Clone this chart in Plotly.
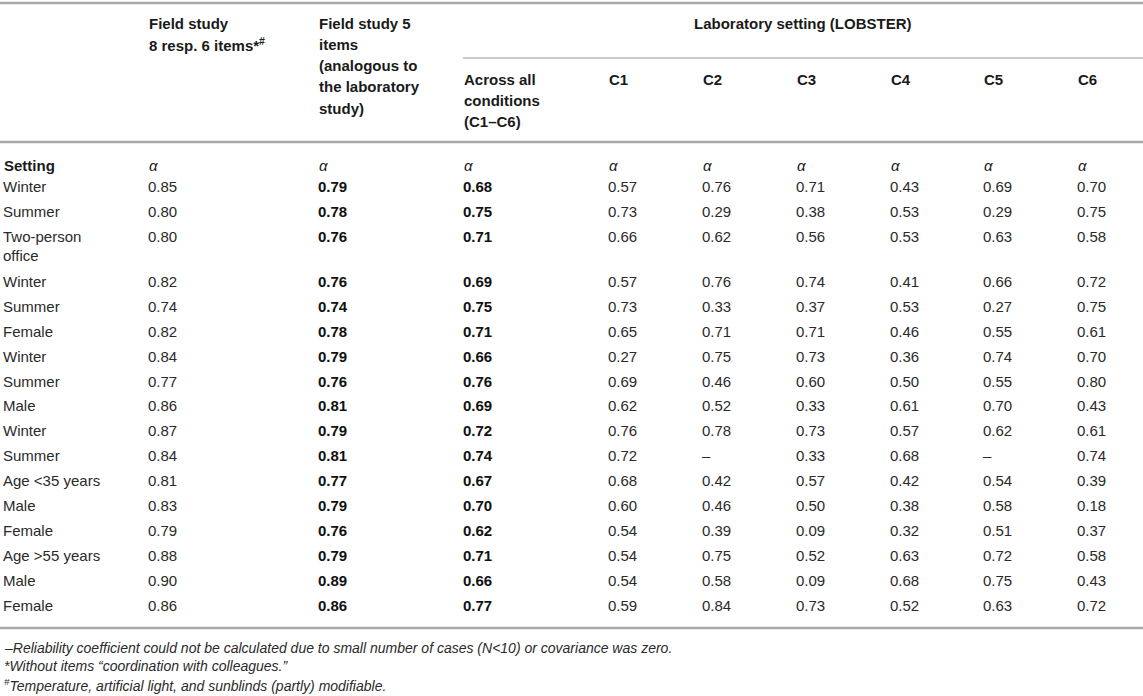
import plotly.graph_objects as go

# row labels (first column)
settings = ["Winter", "Summer", "Two-person<br>office", "Winter", "Summer", "Female",
            "Winter", "Summer", "Male", "Winter", "Summer", "Age <35 years",
            "Male", "Female", "Age >55 years", "Male", "Female"]

# Cronbach's alpha per column (None = could not be calculated)
field_8_6 = [0.85, 0.80, 0.80, 0.82, 0.74, 0.82, 0.84, 0.77, 0.86, 0.87, 0.84, 0.81, 0.83, 0.79, 0.88, 0.90, 0.86]
field_5 = [0.79, 0.78, 0.76, 0.76, 0.74, 0.78, 0.79, 0.76, 0.81, 0.79, 0.81, 0.77, 0.79, 0.76, 0.79, 0.89, 0.86]
lab_all = [0.68, 0.75, 0.71, 0.69, 0.75, 0.71, 0.66, 0.76, 0.69, 0.72, 0.74, 0.67, 0.70, 0.62, 0.71, 0.66, 0.77]
c1 = [0.57, 0.73, 0.66, 0.57, 0.73, 0.65, 0.27, 0.69, 0.62, 0.76, 0.72, 0.68, 0.60, 0.54, 0.54, 0.54, 0.59]
c2 = [0.76, 0.29, 0.62, 0.76, 0.33, 0.71, 0.75, 0.46, 0.52, 0.78, None, 0.42, 0.46, 0.39, 0.75, 0.58, 0.84]
c3 = [0.71, 0.38, 0.56, 0.74, 0.37, 0.71, 0.73, 0.60, 0.33, 0.73, 0.33, 0.57, 0.50, 0.09, 0.52, 0.09, 0.73]
c4 = [0.43, 0.53, 0.53, 0.41, 0.53, 0.46, 0.36, 0.50, 0.61, 0.57, 0.68, 0.42, 0.38, 0.32, 0.63, 0.68, 0.52]
c5 = [0.69, 0.29, 0.63, 0.66, 0.27, 0.55, 0.74, 0.55, 0.70, 0.62, None, 0.54, 0.58, 0.51, 0.72, 0.75, 0.63]
c6 = [0.70, 0.75, 0.58, 0.72, 0.75, 0.61, 0.70, 0.80, 0.43, 0.61, 0.74, 0.39, 0.18, 0.37, 0.58, 0.43, 0.72]

col_headers = ["Field study<br>8 resp. 6 items*<sup>#</sup>",
               "Field study 5<br>items<br>(analogous to<br>the laboratory<br>study)",
               "Across all<br>conditions<br>(C1–C6)", "C1", "C2", "C3", "C4", "C5", "C6"]
group_header = "Laboratory setting (LOBSTER)"
footnotes = ["–Reliability coefficient could not be calculated due to small number of cases (N<10) or covariance was zero.",
             "*Without items “coordination with colleagues.”",
             "<sup>#</sup>Temperature, artificial light, and sunblinds (partly) modifiable."]

# layout (pixel-like units on both axes)
W, H = 1143, 696
FONT = "Liberation Sans, Arial, Helvetica, sans-serif"
FS = 15
label_x = 3
col_x = [148, 318, 463, 608, 702, 796, 890, 983, 1077]
bold_cols = [1, 2]
Y_FIRST = 188
ROW_H = 24.9
EXTRA_LINE = 20.5
LH = 19.5        # plotly's own line spacing at 15px
HEAD_LH = 21.3   # header line spacing
RULE = "#a9a9a9"

columns = [field_8_6, field_5, lab_all, c1, c2, c3, c4, c5, c6]

row_y = []
y = Y_FIRST
for lab in settings:
    row_y.append(y)
    y += ROW_H + lab.count("<br>") * EXTRA_LINE
bottom_rule = row_y[-1] + 21

fig = go.Figure()

label_y = [ry + lab.count("<br>") * LH / 2 for ry, lab in zip(row_y, settings)]
fig.add_trace(go.Scatter(x=[label_x] * len(settings), y=label_y, text=settings, mode="text",
                         textposition="middle right", hoverinfo="skip",
                         textfont=dict(family=FONT, size=FS, color="#2a2a2a")))

for i, (cx, vals) in enumerate(zip(col_x, columns)):
    txt = ["–" if v is None else f"{v:.2f}" for v in vals]
    if i in bold_cols:
        txt = [f"<b>{t}</b>" for t in txt]
    fig.add_trace(go.Scatter(x=[cx] * len(vals), y=row_y, text=txt, mode="text",
                             textposition="middle right", hoverinfo="skip",
                             textfont=dict(family=FONT, size=FS,
                                           color="#111111" if i in bold_cols else "#2a2a2a")))

ann = []
# header cells, one annotation per line for a looser line spacing
for i, (cx, h) in enumerate(zip(col_x, col_headers)):
    first = 23 if i < 2 else 79
    for j, line in enumerate(h.split("<br>")):
        ann.append(dict(x=cx, y=first + j * HEAD_LH, text=f"<b>{line}</b>", xanchor="left",
                        yanchor="middle"))
ann.append(dict(x=(col_x[2] + W) / 2, y=23, text=f"<b>{group_header}</b>", xanchor="center",
                yanchor="middle"))
# alpha row
ann.append(dict(x=label_x, y=165, text="<b>Setting</b>", xanchor="left", yanchor="middle"))
for cx in col_x:
    ann.append(dict(x=cx, y=165, text="<i>α</i>", xanchor="left", yanchor="middle"))
for a in ann:
    a.update(xref="x", yref="y", showarrow=False, borderpad=0,
             font=dict(family=FONT, size=FS, color="#1a1a1a"))

for k, f in enumerate(footnotes):
    ann.append(dict(x=label_x, y=bottom_rule + 20 + k * 18.5, text=f"<i>{f}</i>", xref="x", yref="y",
                    xanchor="left", yanchor="middle", showarrow=False, borderpad=0,
                    font=dict(family=FONT, size=14, color="#2a2a2a")))

shapes = [
    dict(type="line", x0=0, x1=W, y0=3, y1=3, line=dict(color=RULE, width=2.5)),
    dict(type="line", x0=col_x[2], x1=W, y0=58, y1=58, line=dict(color="#b8b8b8", width=1.3)),
    dict(type="line", x0=0, x1=W, y0=142, y1=142, line=dict(color=RULE, width=2.5)),
    dict(type="line", x0=0, x1=W, y0=bottom_rule, y1=bottom_rule, line=dict(color=RULE, width=2.5)),
]
for s in shapes:
    s.update(xref="x", yref="y", layer="below")

fig.update_layout(
    width=W, height=H, margin=dict(l=0, r=0, t=0, b=0),
    paper_bgcolor="white", plot_bgcolor="white", showlegend=False,
    xaxis=dict(range=[0, W], visible=False, fixedrange=True),
    yaxis=dict(range=[H, 0], visible=False, fixedrange=True),
    annotations=ann, shapes=shapes,
)

# drop the default 8px page margin so the table sits at the window origin
fig.write_html("out.html", config={"displayModeBar": False},
               post_script="document.body.style.margin='0';")
